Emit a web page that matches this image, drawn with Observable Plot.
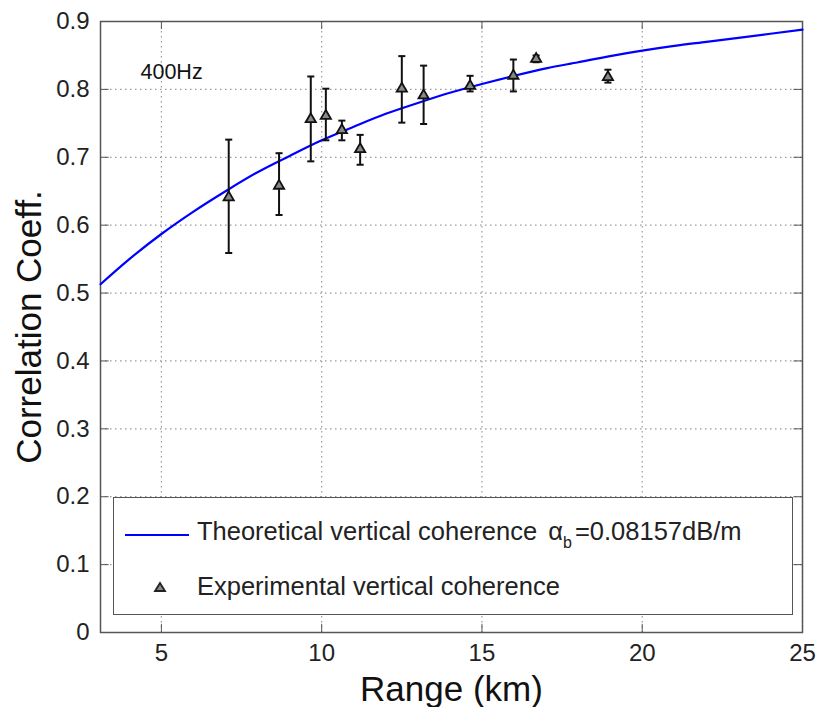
<!DOCTYPE html>
<html>
<head>
<meta charset="utf-8">
<script src="https://cdn.jsdelivr.net/npm/d3@7"></script>
<script src="https://cdn.jsdelivr.net/npm/@observablehq/plot@0.6"></script>
<style>
  html, body { margin: 0; padding: 0; background: #fff; }
  #wrap { position: relative; width: 817px; height: 707px; font-family: "Liberation Sans", Arial, sans-serif; }
  #legend { position: absolute; left: 113px; top: 497px; width: 680px; height: 118px; background: #fff;
            border: 1.5px solid #555; box-sizing: border-box; color: #222; font-size: 25.5px; }
  .row { position: absolute; left: 0; display: flex; align-items: center; white-space: nowrap; }
  .row svg { flex: none; }
  .lbl { margin-left: 6px; }
  .alpha { margin-left: 4px; }
  sub { font-size: 16px; vertical-align: -8px; margin-right: 3px; }
</style>
</head>
<body>
<div id="wrap"></div>
<script>
// ---- data ----
const xTicks = [5, 10, 15, 20, 25];
const yTicks = [0, 0.1, 0.2, 0.3, 0.4, 0.5, 0.6, 0.7, 0.8, 0.9];

// theoretical curve
const theoRange = [3.1, 4, 5, 6, 7, 8, 9, 10, 11, 12, 13, 14, 15, 16, 17, 18, 19, 20, 21, 22, 23, 24, 25];
const theoCoeff = [0.513, 0.550, 0.587, 0.620, 0.650, 0.678, 0.702, 0.725, 0.745, 0.764, 0.780, 0.795, 0.808, 0.820, 0.831, 0.840, 0.849, 0.857, 0.864, 0.870, 0.876, 0.882, 0.888];

// experimental points with error bars
const expRange = [7.1, 8.67, 9.66, 10.13, 10.63, 11.2, 12.5, 13.18, 14.63, 15.98, 16.69, 18.93];
const expCoeff = [0.641, 0.658, 0.756, 0.761, 0.740, 0.712, 0.801, 0.791, 0.805, 0.820, 0.845, 0.818];
const expLow   = [0.559, 0.615, 0.694, 0.725, 0.725, 0.689, 0.751, 0.749, 0.797, 0.797, 0.840, 0.810];
const expHigh  = [0.726, 0.706, 0.819, 0.801, 0.754, 0.733, 0.849, 0.835, 0.820, 0.844, 0.850, 0.829];

const annotation = "400Hz";
const xLabel = "Range (km)";
const yLabel = "Correlation Coeff.";

const theo = theoRange.map((x, i) => ({x, y: theoCoeff[i]}));
const exp = expRange.map((x, i) => ({x, y: expCoeff[i], lo: expLow[i], hi: expHigh[i]}));

const xDomain = [3.1, 25];
const yDomain = [0, 0.9];
const capHalf = 0.11;   // error-bar cap half width (km)
const tickLenX = 0.012; // inside tick length (coeff units)
const tickLenY = 0.27;  // inside tick length (km units)

const grid = {stroke: "#999", strokeOpacity: 1, strokeDasharray: "1.5,3.5", strokeWidth: 1.2};

const chart = Plot.plot({
  width: 817,
  height: 707,
  marginLeft: 100,
  marginRight: 15,
  marginTop: 21,
  marginBottom: 75,
  style: {fontFamily: "'Liberation Sans', Arial, sans-serif", background: "#fff", color: "#222"},
  x: {domain: xDomain, ticks: xTicks},
  y: {domain: yDomain, ticks: yTicks},
  marks: [
    Plot.gridX(xTicks, grid),
    Plot.gridY(yTicks, grid),
    // inside ticks
    Plot.ruleX(xTicks, {x: d => d, y1: yDomain[0], y2: yDomain[0] + tickLenX, stroke: "#555"}),
    Plot.ruleX(xTicks, {x: d => d, y1: yDomain[1], y2: yDomain[1] - tickLenX, stroke: "#555"}),
    Plot.ruleY(yTicks, {y: d => d, x1: xDomain[0], x2: xDomain[0] + tickLenY, stroke: "#555"}),
    Plot.ruleY(yTicks, {y: d => d, x1: xDomain[1], x2: xDomain[1] - tickLenY, stroke: "#555"}),
    Plot.frame({stroke: "#555", strokeWidth: 1.5}),
    Plot.axisX(xTicks, {tickSize: 0, tickPadding: 11, fontSize: 24, label: null}),
    Plot.axisY(yTicks, {tickSize: 0, tickPadding: 11, fontSize: 24, label: null, tickFormat: d => String(d)}),
    Plot.text([xLabel], {frameAnchor: "bottom", lineAnchor: "middle", textAnchor: "middle", dy: 57, fontSize: 35, fill: "#111"}),
    Plot.text([yLabel], {frameAnchor: "left", lineAnchor: "middle", textAnchor: "middle", dx: -71, rotate: -90, fontSize: 35, fill: "#111"}),
    Plot.text([annotation], {frameAnchor: "top-left", lineAnchor: "middle", textAnchor: "start", dx: 40, dy: 51, fontSize: 21.5, fill: "#111"}),
    // theoretical curve
    Plot.line(theo, {x: "x", y: "y", stroke: "#0000ff", strokeWidth: 2.2, curve: "monotone-x"}),
    // error bars
    Plot.ruleX(exp, {x: "x", y1: "lo", y2: "hi", stroke: "#111", strokeWidth: 2}),
    Plot.link(exp, {x1: d => d.x - capHalf, x2: d => d.x + capHalf, y1: "lo", y2: "lo", stroke: "#111", strokeWidth: 2}),
    Plot.link(exp, {x1: d => d.x - capHalf, x2: d => d.x + capHalf, y1: "hi", y2: "hi", stroke: "#111", strokeWidth: 2}),
    Plot.dot(exp, {x: "x", y: "y", symbol: "triangle", r: 3.8, stroke: "#111", strokeWidth: 1.8, fill: "#888"})
  ]
});

const wrap = document.getElementById("wrap");
wrap.appendChild(chart);

const legend = document.createElement("div");
legend.id = "legend";
legend.innerHTML = `
  <div class="row" style="top:19px;left:11px;">
    <svg width="66" height="6"><line x1="0" y1="3" x2="64" y2="3" stroke="#0000ff" stroke-width="2"/></svg>
    <span class="lbl">Theoretical vertical coherence <span class="alpha">α</span><sub>b</sub>=0.08157dB/m</span>
  </div>
  <div class="row" style="top:74px;left:11px;">
    <svg width="66" height="14"><path d="M35,3 L40,11 L30,11 Z" fill="#888" stroke="#222" stroke-width="1.8"/></svg>
    <span class="lbl">Experimental vertical coherence</span>
  </div>`;
wrap.appendChild(legend);
</script>
</body>
</html>
